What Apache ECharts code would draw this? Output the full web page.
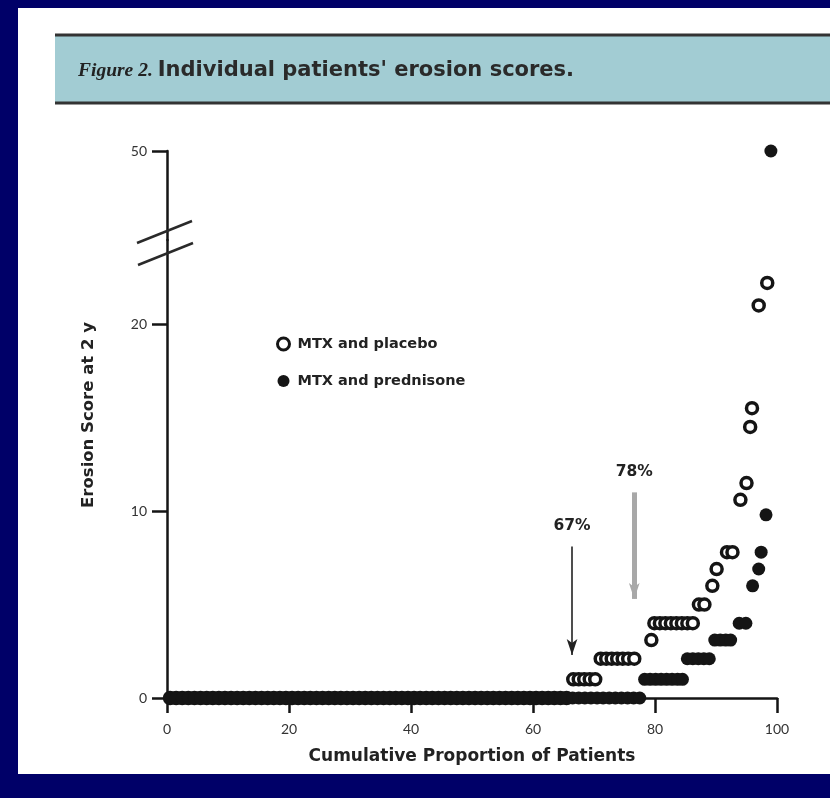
<!DOCTYPE html>
<html><head><meta charset="utf-8">
<script src="https://cdn.jsdelivr.net/npm/echarts@6/dist/echarts.min.js"></script>
<style>html,body{margin:0;padding:0;background:#000068;} #c{width:830px;height:798px;}</style>
</head><body><div id="c"></div>
<script>
// ---- data ----
const titleMain = "Figure 2.";
const titleSub = "Individual patients' erosion scores.";
const xName = "Cumulative Proportion of Patients";
const yName = "Erosion Score at 2 y";
const seriesNames = ["MTX and placebo", "MTX and prednisone"];
const xTicks = [0, 20, 40, 60, 80, 100];
const yTicksLower = [0, 10, 20];
const yTicksUpper = [50];

const placeboX = [0.5,1.5,2.5,3.5,4.5,5.5,6.5,7.5,8.5,9.5,10.5,11.5,12.5,13.5,14.5,15.5,16.5,17.5,18.5,19.5,
  20.5,21.5,22.5,23.5,24.5,25.5,26.5,27.5,28.5,29.5,30.5,31.5,32.5,33.5,34.5,35.5,36.5,37.5,38.5,39.5,
  40.5,41.5,42.5,43.5,44.5,45.5,46.5,47.5,48.5,49.5,50.5,51.5,52.5,53.5,54.5,55.5,56.5,57.5,58.5,59.5,
  60.5,61.5,62.5,63.5,64.5,65.5,
  66.6,67.5,68.4,69.3,70.2,
  71.1,72.0,72.9,73.8,74.7,75.6,76.6,
  79.4,
  79.9,80.8,81.7,82.6,83.5,84.4,85.3,86.2,
  87.2,88.1,
  89.4,
  90.1,
  91.8,92.7,
  94.0,95.0,95.6,95.9,97.0,98.4];
const placeboY = [0,0,0,0,0,0,0,0,0,0,0,0,0,0,0,0,0,0,0,0,
  0,0,0,0,0,0,0,0,0,0,0,0,0,0,0,0,0,0,0,0,
  0,0,0,0,0,0,0,0,0,0,0,0,0,0,0,0,0,0,0,0,
  0,0,0,0,0,0,
  1,1,1,1,1,
  2.1,2.1,2.1,2.1,2.1,2.1,2.1,
  3.1,
  4,4,4,4,4,4,4,4,
  5,5,
  6,
  6.9,
  7.8,7.8,
  10.6,11.5,14.5,15.5,21.0,22.2];

const prednisoneX = [0.5,1.5,2.5,3.5,4.5,5.5,6.5,7.5,8.5,9.5,10.5,11.5,12.5,13.5,14.5,15.5,16.5,17.5,18.5,19.5,
  20.5,21.5,22.5,23.5,24.5,25.5,26.5,27.5,28.5,29.5,30.5,31.5,32.5,33.5,34.5,35.5,36.5,37.5,38.5,39.5,
  40.5,41.5,42.5,43.5,44.5,45.5,46.5,47.5,48.5,49.5,50.5,51.5,52.5,53.5,54.5,55.5,56.5,57.5,58.5,59.5,
  60.5,61.5,62.5,63.5,64.5,65.5,66.5,67.5,68.5,69.5,70.5,71.5,72.5,73.5,74.5,75.5,76.5,77.5,
  78.3,79.2,80.1,81.0,81.9,82.8,83.7,84.5,
  85.3,86.2,87.1,88.0,88.9,
  89.8,90.7,91.6,92.4,
  93.8,94.9,
  96.0,97.0,97.4,98.2,99.0];
const prednisoneY = [0,0,0,0,0,0,0,0,0,0,0,0,0,0,0,0,0,0,0,0,
  0,0,0,0,0,0,0,0,0,0,0,0,0,0,0,0,0,0,0,0,
  0,0,0,0,0,0,0,0,0,0,0,0,0,0,0,0,0,0,0,0,
  0,0,0,0,0,0,0,0,0,0,0,0,0,0,0,0,0,0,
  1,1,1,1,1,1,1,1,
  2.1,2.1,2.1,2.1,2.1,
  3.1,3.1,3.1,3.1,
  4,4,
  6,6.9,7.8,9.8,50];

// annotation arrows: label, x, start y, end y
const arrowLabels = ["67%", "78%"];
const arrowX = [66.4, 76.6];
const arrowFrom = [8.1, 11.0];
const arrowTo = [2.3, 5.3];

// ---- chart ----
const LOWER_MAX = 24.5;
const UPPER_MIN = 35;
function pts(xs, ys, keep) {
  return xs.map((x, i) => [x, ys[i]]).filter(p => keep(p[1]));
}
const inLower = v => v <= LOWER_MAX;
const inUpper = v => v > LOWER_MAX;

const ink = '#151515';
const sans = '"DejaVu Sans", "Noto Sans", sans-serif';
const tickFont = 'Lato, "Noto Sans", sans-serif';

const chart = echarts.init(document.getElementById('c'), null, {width: 830, height: 798});

const openStyle = {color: '#ffffff', borderColor: ink, borderWidth: 3.5, opacity: 1};
const fillStyle = {color: ink, borderColor: ink, borderWidth: 0, opacity: 1};

const option = {
  animation: false,
  backgroundColor: '#000068',
  title: {
    left: 73, top: 55, padding: 5,
    text: '{a|' + titleMain + '} {b|' + titleSub + '}',
    textStyle: {
      rich: {
        a: {fontFamily: '"Liberation Serif", serif', fontStyle: 'italic', fontSize: 19.5, color: '#222'},
        b: {fontFamily: sans, fontSize: 21, color: '#2a2a2a'}
      }
    }
  },
  legend: {
    orient: 'vertical', left: 271, top: 331,
    itemWidth: 18, itemHeight: 12, itemGap: 21,
    textStyle: {fontFamily: sans, fontWeight: 'bold', fontSize: 14.5, color: '#222', lineHeight: 16},
    data: [
      {name: seriesNames[0], icon: 'circle', itemStyle: {color: '#fff', borderColor: ink, borderWidth: 3, opacity: 1}},
      {name: seriesNames[1], icon: 'circle', itemStyle: {color: ink, borderWidth: 0, opacity: 1}}
    ]
  },
  grid: [
    {left: 167, top: 240, width: 610, height: 458},
    {left: 167, top: 151, width: 610, height: 89}
  ],
  xAxis: [
    {
      gridIndex: 0, type: 'value', min: 0, max: 100, interval: 20,
      name: xName, nameLocation: 'middle', nameGap: 50,
      nameTextStyle: {fontFamily: sans, fontWeight: 'bold', fontSize: 17, color: '#222'},
      axisLine: {show: true, onZero: false, lineStyle: {color: ink, width: 2.5}},
      axisTick: {show: true, length: 15, lineStyle: {color: ink, width: 2.5}, customValues: xTicks},
      axisLabel: {margin: 24, fontFamily: tickFont, fontSize: 14, color: '#333', customValues: xTicks},
      splitLine: {show: false}
    },
    {
      gridIndex: 1, type: 'value', min: 0, max: 100, show: false, splitLine: {show: false}
    }
  ],
  yAxis: [
    {
      gridIndex: 0, type: 'value', min: 0, max: LOWER_MAX,
      axisLine: {show: true, onZero: false, lineStyle: {color: ink, width: 2.5}},
      axisTick: {show: true, length: 15, lineStyle: {color: ink, width: 2.5}, customValues: yTicksLower},
      axisLabel: {margin: 20, fontFamily: tickFont, fontSize: 14, color: '#333', customValues: yTicksLower},
      splitLine: {show: false}
    },
    {
      gridIndex: 1, type: 'value', min: UPPER_MIN, max: 50,
      axisLine: {show: true, onZero: false, lineStyle: {color: ink, width: 2.5}},
      axisTick: {show: true, length: 15, lineStyle: {color: ink, width: 2.5}, customValues: yTicksUpper},
      axisLabel: {margin: 20, fontFamily: tickFont, fontSize: 14, color: '#333', customValues: yTicksUpper},
      splitLine: {show: false}
    }
  ],
  graphic: [
    {type: 'rect', z: -10, shape: {x: 18, y: 8, width: 812, height: 766}, style: {fill: '#ffffff'}},
    {type: 'rect', z: -9, shape: {x: 55, y: 35, width: 775, height: 68}, style: {fill: '#a2ccd3', stroke: null}},
    {type: 'line', z: -8, shape: {x1: 55, y1: 35, x2: 830, y2: 35}, style: {stroke: '#333', lineWidth: 3}},
    {type: 'line', z: -8, shape: {x1: 55, y1: 103, x2: 830, y2: 103}, style: {stroke: '#333', lineWidth: 3}},
    // axis break marks
    {type: 'line', z: 10, shape: {x1: 137, y1: 243, x2: 192, y2: 221}, style: {stroke: '#2a2a2a', lineWidth: 2.5}},
    {type: 'line', z: 10, shape: {x1: 138, y1: 265, x2: 193, y2: 243}, style: {stroke: '#2a2a2a', lineWidth: 2.5}},
    // y axis name
    {type: 'text', z: 10, x: 89, y: 415, rotation: Math.PI / 2,
     style: {text: yName, fontFamily: sans, fontWeight: 'bold', fontSize: 16.5, fill: '#222', align: 'center', verticalAlign: 'middle'}}
  ],
  series: [
    {
      name: seriesNames[0], type: 'scatter', xAxisIndex: 0, yAxisIndex: 0, z: 3,
      symbol: 'circle', symbolSize: 11, clip: false, itemStyle: openStyle,
      data: pts(placeboX, placeboY, inLower),
      markLine: {
        silent: true, animation: false,
        symbol: ['none', 'arrow'],
        data: [
          [{coord: [arrowX[0], arrowFrom[0]], lineStyle: {color: '#222', width: 1.6, type: 'solid', opacity: 1}, symbolSize: 10,
            label: {show: true, position: 'start', distance: 13, formatter: arrowLabels[0], fontFamily: sans, fontWeight: 'bold', fontSize: 15.5, color: '#222'}},
           {coord: [arrowX[0], arrowTo[0]]}],
          [{coord: [arrowX[1], arrowFrom[1]], lineStyle: {color: '#a8a8a8', width: 5, type: 'solid', opacity: 1}, symbolSize: 11,
            label: {show: true, position: 'start', distance: 12, formatter: arrowLabels[1], fontFamily: sans, fontWeight: 'bold', fontSize: 15.5, color: '#222'}},
           {coord: [arrowX[1], arrowTo[1]]}]
        ]
      }
    },
    {
      name: seriesNames[1], type: 'scatter', xAxisIndex: 0, yAxisIndex: 0, z: 4,
      symbol: 'circle', symbolSize: 13, clip: false, itemStyle: fillStyle,
      data: pts(prednisoneX, prednisoneY, inLower)
    },
    {
      name: seriesNames[1], type: 'scatter', xAxisIndex: 1, yAxisIndex: 1, z: 4,
      symbol: 'circle', symbolSize: 13, clip: false, itemStyle: fillStyle,
      data: pts(prednisoneX, prednisoneY, inUpper)
    },
    {
      name: seriesNames[0], type: 'scatter', xAxisIndex: 1, yAxisIndex: 1, z: 3,
      symbol: 'circle', symbolSize: 11, clip: false, itemStyle: openStyle,
      data: pts(placeboX, placeboY, inUpper)
    }
  ]
};
chart.setOption(option);
</script>
</body></html>
